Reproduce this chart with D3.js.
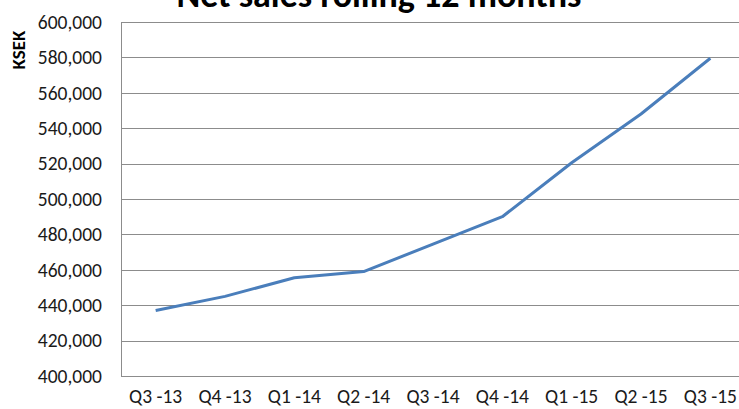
<!DOCTYPE html>
<head>
  <meta charset="utf-8">
  <title>Net sales rolling 12 months</title>
  <script src="https://d3js.org/d3.v7.min.js"></script>
  <style>
    body { margin: 0; background: #fff; }
    text { font-family: Carlito, "Open Sans", "Liberation Sans", sans-serif; }
  </style>
</head>
<body>
  <div id="chart"></div>
  <script>
    // quarters and rolling 12 month net sales (KSEK)
    var quarters = ['Q3 -13', 'Q4 -13', 'Q1 -14', 'Q2 -14', 'Q3 -14', 'Q4 -14', 'Q1 -15', 'Q2 -15', 'Q3 -15'];
    var netSales = [437000, 445000, 455500, 459000, 474500, 490000, 520500, 548000, 579500];
    var yTicks = [400000, 420000, 440000, 460000, 480000, 500000, 520000, 540000, 560000, 580000, 600000];

    var width = 739, height = 409;
    var margin = { top: 22, right: -6, bottom: 33, left: 121 };
    var innerW = width - margin.left - margin.right;
    var innerH = height - margin.top - margin.bottom;

    var x = d3.scaleBand().domain(quarters).range([0, innerW]);
    var y = d3.scaleLinear().domain([400000, 600000]).range([innerH, 0]);
    var fmt = d3.format(',');

    var svg = d3.select('#chart').append('svg')
      .attr('width', width)
      .attr('height', height);

    var g = svg.append('g')
      .attr('transform', 'translate(' + margin.left + ',' + margin.top + ')');

    // gridlines
    g.selectAll('line.grid')
      .data(yTicks)
      .enter().append('line')
        .attr('class', 'grid')
        .attr('x1', 0)
        .attr('x2', innerW)
        .attr('y1', function (d) { return Math.round(y(d)) + 0.5; })
        .attr('y2', function (d) { return Math.round(y(d)) + 0.5; })
        .attr('stroke', '#8c8c8c')
        .attr('stroke-width', 1);

    // y axis
    var yAxis = g.append('g')
      .call(d3.axisLeft(y).tickValues(yTicks).tickFormat(fmt).tickSize(0).tickPadding(19));
    yAxis.select('.domain').attr('stroke', '#8c8c8c');
    yAxis.selectAll('text')
      .attr('fill', '#1a1a1a')
      .style('font-size', '19.5px');

    // x axis
    var xAxis = g.append('g')
      .attr('transform', 'translate(0,' + innerH + ')')
      .call(d3.axisBottom(x).tickSize(0).tickPadding(13));
    xAxis.select('.domain').attr('stroke', '#8c8c8c');
    xAxis.selectAll('text')
      .attr('fill', '#1a1a1a')
      .style('font-size', '19.5px');

    // line
    var line = d3.line()
      .x(function (d, i) { return x(quarters[i]) + x.bandwidth() / 2; })
      .y(function (d) { return y(d); });

    g.append('path')
      .datum(netSales)
      .attr('fill', 'none')
      .attr('stroke', '#4a7ebb')
      .attr('stroke-width', 3)
      .attr('stroke-linejoin', 'round')
      .attr('d', line);

    // axis title
    svg.append('text')
      .attr('transform', 'translate(25,50) rotate(-90)')
      .attr('text-anchor', 'middle')
      .attr('fill', '#000')
      .style('font-size', '19px')
      .style('font-weight', 'bold')
      .text('KSEK');

    // chart title (cut off at top)
    svg.append('text')
      .attr('x', 379)
      .attr('y', 7)
      .attr('text-anchor', 'middle')
      .attr('fill', '#000')
      .style('font-size', '36px')
      .style('font-weight', 'bold')
      .text('Net sales rolling 12 months');
  </script>
</body>
